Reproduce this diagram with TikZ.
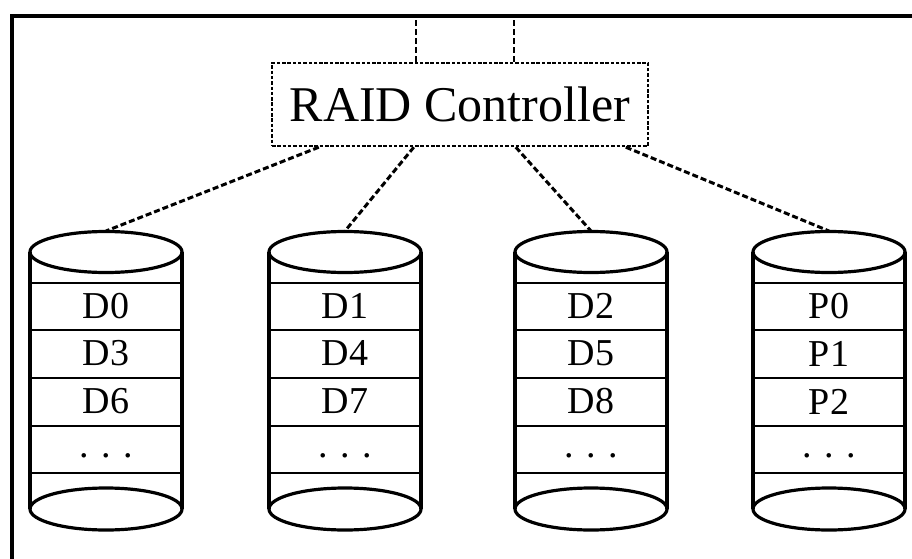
\documentclass[tikz,border=0pt]{standalone}
\usepackage{fontspec}
\setmainfont{Liberation Serif}
\usetikzlibrary{positioning}

\tikzset{
  disk/.style={line width=3.2pt},
  stripe/.style={line width=2.8pt},
  cell/.style={inner sep=0pt, font=\fontsize{38}{42}\selectfont},
  ctrlbox/.style={draw, line width=2.4pt, dash pattern=on 3.5pt off 1.8pt,
    minimum width=376pt, minimum height=83pt, inner sep=0pt,
    font=\fontsize{50}{60}\selectfont},
  link/.style={line width=3pt, dash pattern=on 6pt off 3pt}
}

\begin{document}
\begin{tikzpicture}[x=1pt, y=1pt]
    \useasboundingbox (0,0) rectangle (912,558);
    % outer frame
    \draw[line width=4.5pt] (12,-6) rectangle (925,542);

    % controller
    \node[ctrlbox] (ctrl) at (460,453.5) {RAID Controller};
    \coordinate (in1) at ([xshift=145pt]ctrl.north west);
    \coordinate (in2) at ([xshift=243pt]ctrl.north west);
    \draw[link, line width=2.4pt] (in1) -- (in1 |- 0,542);
    \draw[link, line width=2.4pt] (in2) -- (in2 |- 0,542);

    % disks
    \foreach \x/\n/\a/\b/\c in {106/d1/D0/D3/D6, 345/d2/D1/D4/D7,
                               591/d3/D2/D5/D8, 829/d4/P0/P1/P2} {
      \draw[disk] (\x,306) ellipse [x radius=76, y radius=20.5];
      \draw[disk] (\x,49) ellipse [x radius=76, y radius=21];
      \draw[disk] (\x-76,306) -- (\x-76,49);
      \draw[disk] (\x+76,306) -- (\x+76,49);
      \foreach \y in {275,228,180,132,85} {
        \draw[stripe] (\x-76,\y) -- (\x+76,\y);
      }
      \node[cell] (\n-a) at (\x,252) {\a};
      \node[cell] (\n-b) at (\x,204.5) {\b};
      \node[cell] (\n-c) at (\x,156.5) {\c};
      \node[cell] (\n-d) at (\x,102) {. . .};
      \coordinate (\n) at (\x,327);
    }

    % links to the disks
    \draw[link] ([xshift=48pt]ctrl.south west) -- (d1);
    \draw[link] ([xshift=143pt]ctrl.south west) -- (d2);
    \draw[link] ([xshift=245pt]ctrl.south west) -- (d3);
    \draw[link] ([xshift=355pt]ctrl.south west) -- (d4);
\end{tikzpicture}
\end{document}
